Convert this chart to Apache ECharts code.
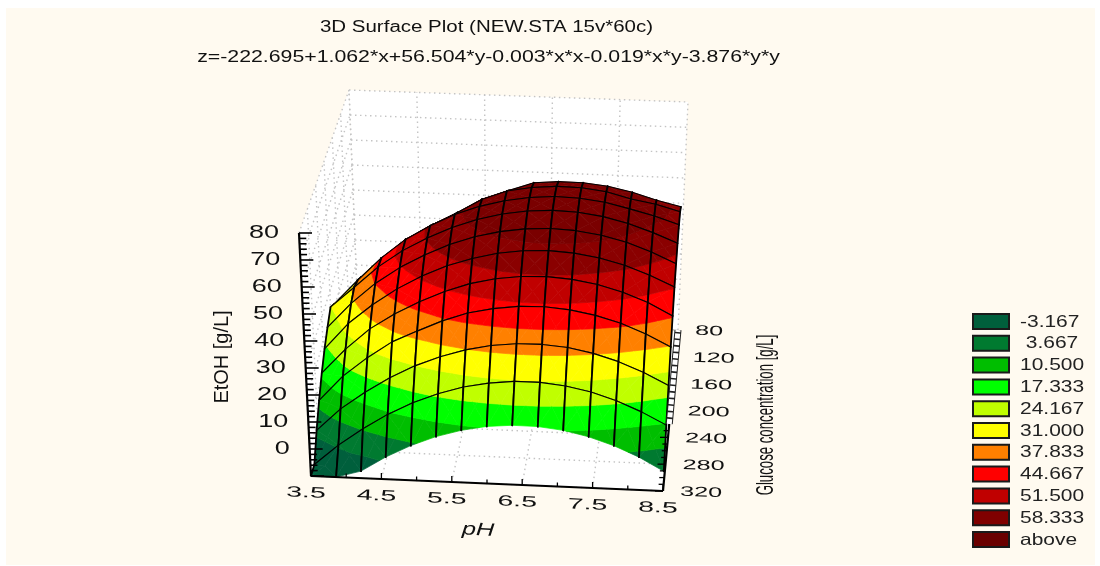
<!DOCTYPE html>
<html><head><meta charset="utf-8">
<style>html,body{margin:0;padding:0;background:#fff}#c{width:1100px;height:566px}</style>
<script src="https://cdn.jsdelivr.net/npm/echarts@6/dist/echarts.min.js"></script>
</head><body><div id="c"></div>
<script>
const titleLines = ['3D Surface Plot (NEW.STA 15v*60c)', 'z=-222.695+1.062*x+56.504*y-0.003*x*x-0.019*x*y-3.876*y*y'];
const phTicks = [3.5, 4.5, 5.5, 6.5, 7.5, 8.5];
const glucoseTicks = [80, 120, 160, 200, 240, 280, 320];
const etohTicks = [0, 10, 20, 30, 40, 50, 60, 70, 80];
const bandLabels = ['-3.167', ' 3.667', '10.500', '17.333', '24.167', '31.000', '37.833', '44.667', '51.500', '58.333', 'above'];
const bandLimits = [-3.167, 3.667, 10.5, 17.333, 24.167, 31, 37.833, 44.667, 51.5, 58.333];
const bandColors = ['#005f3c', '#007a30', '#00be00', '#00ff00', '#c0ff00', '#ffff00', '#ff8000', '#ff0000', '#c00000', '#8a0000', '#7a0000'];
const legendColors = ['#005f3c', '#007a30', '#00be00', '#00ff00', '#c0ff00', '#ffff00', '#ff8000', '#ff0000', '#c00000', '#800000', '#6a0000'];
const phGrid = [3.5, 3.857, 4.214, 4.571, 4.929, 5.286, 5.643, 6, 6.357, 6.714, 7.071, 7.429, 7.786, 8.143, 8.5];
const glucoseGrid = [320, 302.86, 285.71, 268.57, 251.43, 234.29, 217.14, 200, 182.86, 165.71, 148.57];
// EtOH, one row per visible glucose level (front to back), one column per pH
const etohRows = [
 [-10,-10,-7.4,-1.8,2.8,6.5,9.2,11,11.8,11.7,10.7,8.7,5.8,2,-2.8],
 [-10,-2.4,4.1,9.8,14.5,18.2,21.1,22.9,23.9,23.9,22.9,21.1,18.2,14.5,10],
 [-1.5,6.9,13.5,19.3,24.1,27.9,30.8,32.8,33.8,33.9,33.1,31.3,28.6,24.9,20.5],
 [5.5,15,22.3,28.6,33,37.2,40.5,42.5,43.7,43.9,43.1,41.4,38.8,35.2,30.7],
 [11.5,21,29,35,40,44.2,47.5,49.7,50.9,51.2,50.5,48.9,46.4,42.9,38.2],
 [16.5,26.5,34,40.4,45.6,49.9,53,55.3,56.6,57,56.4,54.9,52.5,49.1,45],
 [20.5,30,38,44.4,49.6,53.9,57.2,59.5,60.9,61.4,60.9,59.5,57.2,53.9,49.8],
 [24,32,40.2,46.8,52,56.4,59.8,62.2,63.7,64.3,63.9,62.6,60.3,57.2,53.5],
 [21,30.5,39.5,47,52.6,57.3,60.8,63.3,64.9,65.6,65.3,64.1,61.9,59.5,56.5],
 [17,27.5,35.5,43.3,49,54,59.5,63,64.7,65.5,65.3,64.1,61.7,60,57.5],
 [12.7,23,31,39,45,50,55.3,59.2,62.5,63.3,63.2,62.2,60.2,57.5,55.3]
];

// view of the plot box: screen position of its eight corners (pH, glucose front/back, EtOH)
const box = {
  ph: [3.5, 8.5], glucose: [320, 80], etoh: [-10, 80],
  c000: [311, 476], c100: [663, 491], c010: [358, 315], c110: [678, 330],
  c001: [299, 233], c101: [673, 245], c011: [349, 90], c111: [688, 102]
};
function project(ph, g, z) {
  const u = (ph - box.ph[0]) / (box.ph[1] - box.ph[0]);
  const v = (g - box.glucose[0]) / (box.glucose[1] - box.glucose[0]);
  const w = (z - box.etoh[0]) / (box.etoh[1] - box.etoh[0]);
  const mix = k => {
    const f0 = box.c000[k] * (1 - u) + box.c100[k] * u, b0 = box.c010[k] * (1 - u) + box.c110[k] * u;
    const f1 = box.c001[k] * (1 - u) + box.c101[k] * u, b1 = box.c011[k] * (1 - u) + box.c111[k] * u;
    return (f0 * (1 - v) + b0 * v) * (1 - w) + (f1 * (1 - v) + b1 * v) * w;
  };
  return [mix(0), mix(1)];
}
const P = (api, ph, g, z) => api.coord(project(ph, g, z));
const FLOOR = box.etoh[0], TOP = box.etoh[1];

function clipRange(poly, lo, hi) {
  const clip = (pts, inside, limit) => {
    const out = [];
    for (let i = 0; i < pts.length; i++) {
      const a = pts[i], b = pts[(i + 1) % pts.length];
      const ia = inside(a[2]), ib = inside(b[2]);
      if (ia) out.push(a);
      if (ia !== ib) {
        const t = (limit - a[2]) / (b[2] - a[2]);
        out.push([a[0] + (b[0] - a[0]) * t, a[1] + (b[1] - a[1]) * t, limit]);
      }
    }
    return out;
  };
  let r = clip(poly, z => z >= lo, lo);
  if (r.length) r = clip(r, z => z <= hi, hi);
  return r;
}
function seg(api, a, b, width) {
  const s = P(api, a[0], a[1], a[2]), e = P(api, b[0], b[1], b[2]);
  return { type: 'line', shape: { x1: s[0], y1: s[1], x2: e[0], y2: e[1] }, style: { stroke: '#000', lineWidth: width, lineCap: 'round' } };
}
function renderCell(params, api) {
  const c = api.value(0), r = api.value(1);
  const n = (cc, rr) => [phGrid[cc], glucoseGrid[rr], etohRows[rr][cc]];
  const a = n(c, r), b = n(c + 1, r), d = n(c + 1, r + 1), e = n(c, r + 1);
  const mid = [0, 1, 2].map(k => (a[k] + b[k] + d[k] + e[k]) / 4);
  const children = [];
  [[a, b], [b, d], [d, e], [e, a]].forEach(pair => {
    const tri = [pair[0], pair[1], mid];
    bandColors.forEach((col, i) => {
      const lo = i === 0 ? FLOOR - 1 : bandLimits[i - 1];
      const hi = i === bandLimits.length ? 1e9 : bandLimits[i];
      const pts = clipRange(tri, lo, hi);
      if (pts.length >= 3) children.push({
        type: 'polygon', shape: { points: pts.map(p => P(api, p[0], p[1], p[2])) },
        style: { fill: col, stroke: col, lineWidth: 0.7 }
      });
    });
  });
  children.push(seg(api, a, e, 1.8), seg(api, b, d, 1.8), seg(api, e, d, 1.1));
  if (r > 0) children.push(seg(api, a, b, 1.1));
  return { type: 'group', children };
}
const cells = [];
for (let r = etohRows.length - 2; r >= 0; r--) for (let c = 0; c < phGrid.length - 1; c++) cells.push([c, r]);

function txt(x, y, text, o) {
  return { type: 'text', x, y, rotation: o.rotation || 0, scaleX: o.scaleX || 1, scaleY: o.scaleY || 1,
    style: { text, fill: o.fill || '#111', fontFamily: 'Liberation Sans', fontSize: o.size, fontStyle: o.italic ? 'italic' : 'normal',
      align: o.align || 'center', verticalAlign: 'middle' } };
}
function poly3(api, pts) {
  return { type: 'polygon', shape: { points: pts.map(p => P(api, p[0], p[1], p[2])) }, style: { fill: '#fff' } };
}
function dot(api, a, b) {
  const s = P(api, a[0], a[1], a[2]), e = P(api, b[0], b[1], b[2]);
  return { type: 'line', shape: { x1: s[0], y1: s[1], x2: e[0], y2: e[1] }, style: { stroke: '#c4c4c4', lineWidth: 1.4, lineDash: [1.5, 3.5] } };
}
function renderWalls(params, api) {
  const [p0, p1] = box.ph, [g0, g1] = box.glucose;
  const ch = [
    poly3(api, [[p0, g1, FLOOR], [p1, g1, FLOOR], [p1, g1, TOP], [p0, g1, TOP]]),
    poly3(api, [[p0, g0, FLOOR], [p0, g1, FLOOR], [p0, g1, TOP], [p0, g0, TOP]]),
    poly3(api, [[p0, g0, FLOOR], [p1, g0, FLOOR], [p1, g1, FLOOR], [p0, g1, FLOOR]])
  ];
  const zs = [FLOOR].concat(etohTicks);
  zs.forEach(z => { ch.push(dot(api, [p0, g1, z], [p1, g1, z])); ch.push(dot(api, [p0, g0, z], [p0, g1, z])); });
  phTicks.forEach(ph => { ch.push(dot(api, [ph, g1, FLOOR], [ph, g1, TOP])); ch.push(dot(api, [ph, g0, FLOOR], [ph, g1, FLOOR])); });
  glucoseTicks.forEach(g => { ch.push(dot(api, [p0, g, FLOOR], [p1, g, FLOOR])); ch.push(dot(api, [p0, g, FLOOR], [p0, g, TOP])); });
  return { type: 'group', children: ch };
}
function lineAt(a, b, width, color, dash) {
  const style = { stroke: color || '#000', lineWidth: width };
  if (dash) style.lineDash = dash;
  return { type: 'line', shape: { x1: a[0], y1: a[1], x2: b[0], y2: b[1] }, style };
}
function renderAxes(params, api) {
  const ch = [];
  const [p0, p1] = box.ph, g0 = box.glucose[0], g1 = box.glucose[1];
  // pH axis
  ch.push(lineAt(P(api, p0, g0, FLOOR), P(api, p1, g0, FLOOR), 2));
  for (let ph = p0; ph <= p1 + 1e-6; ph += 0.5) {
    const s = P(api, ph, g0, FLOOR), major = Math.abs(ph - Math.round(ph - 0.5) - 0.5) < 1e-6;
    ch.push(lineAt(s, [s[0], s[1] - (major ? 6 : 4)], 1.3));
  }
  phTicks.forEach(ph => { const s = P(api, ph, g0, FLOOR); ch.push(txt(s[0] - 5, s[1] + 17, String(ph), { size: 15, scaleX: 1.9, rotation: -0.05 })); });
  // EtOH axis
  ch.push(lineAt(P(api, p0, g0, FLOOR), P(api, p0, g0, TOP), 2.2));
  for (let z = FLOOR; z <= TOP; z += 2) {
    const s = P(api, p0, g0, z), major = z % 10 === 0;
    ch.push(lineAt(s, [s[0] + (major ? 13 : 7), s[1]], 1.6));
  }
  etohTicks.forEach(z => { const s = P(api, p0, g0, z); ch.push(txt(s[0] - 20, s[1], String(z), { size: 19, scaleX: 1.42, align: 'right' })); });
  // glucose axis
  const mid = 220;
  const a = P(api, p1, g0, FLOOR), m = P(api, p1, mid, FLOOR), b = P(api, p1, g1, FLOOR);
  ch.push(lineAt(a, m, 2.2));
  for (let g = g0; g > mid; g -= 10) { const s = P(api, p1, g, FLOOR); ch.push(lineAt(s, [s[0] - (g % 40 === 0 ? 8 : 5), s[1]], 1.3)); }
  ch.push(lineAt(m, b, 7, '#222'));
  ch.push(lineAt(m, b, 5, '#fff', [5, 1.6]));
  glucoseTicks.forEach(g => { const s = P(api, p1, g, FLOOR); ch.push(txt(s[0] + 17, s[1] + 1, String(g), { size: 14, scaleX: 1.8, align: 'left', rotation: -0.03 })); });
  return { type: 'group', children: ch };
}
function renderLegend(params, api) {
  const i = api.value(0);
  const tl = api.coord([973, 314 + i * 21.8]);
  return { type: 'group', children: [
    { type: 'rect', shape: { x: tl[0], y: tl[1], width: 36, height: 15 }, style: { fill: legendColors[i], stroke: '#1a1a1a', lineWidth: 2 } },
    txt(tl[0] + 47, tl[1] + 8, bandLabels[i], { size: 16.5, scaleX: 1.27, align: 'left', fill: '#222' })
  ] };
}
function renderTexts(params, api) {
  const c = (x, y) => api.coord([x, y]);
  const t0 = c(486.5, 28), t1 = c(488.5, 58), e = c(222, 357), g = c(766, 415), h = c(478, 530);
  return { type: 'group', children: [
    txt(t0[0], t0[1], titleLines[0], { size: 16, scaleX: 1.28 }),
    txt(t1[0], t1[1], titleLines[1], { size: 16, scaleX: 1.33 }),
    txt(e[0], e[1], 'EtOH [g/L]', { size: 21, scaleX: 0.95, rotation: Math.PI / 2 }),
    txt(g[0], g[1], 'Glucose concentration [g/L]', { size: 24, scaleX: 0.55, rotation: Math.PI / 2 }),
    txt(h[0], h[1], 'pH', { size: 18, scaleX: 1.4, italic: true, rotation: -0.05 })
  ] };
}
const chart = echarts.init(document.getElementById('c'), null, { renderer: 'canvas' });
const base = { type: 'custom', coordinateSystem: 'cartesian2d', clip: false, silent: true, animation: false };
chart.setOption({
  animation: false,
  backgroundColor: '#fff',
  graphic: [{ type: 'rect', z: 0, shape: { x: 6, y: 8, width: 1089, height: 557 }, style: { fill: '#fffaf0' } }],
  grid: { left: 0, right: 0, top: 0, bottom: 0 },
  xAxis: { type: 'value', min: 0, max: 1100, show: false },
  yAxis: { type: 'value', min: 0, max: 566, inverse: true, show: false },
  series: [
    Object.assign({}, base, { name: 'walls', data: [[0, 0]], renderItem: renderWalls, z: 2 }),
    Object.assign({}, base, { name: 'EtOH surface', data: cells, renderItem: renderCell, z: 3 }),
    Object.assign({}, base, { name: 'axes', data: [[0, 0]], renderItem: renderAxes, z: 4 }),
    Object.assign({}, base, { name: 'legend', data: bandLabels.map((l, i) => [i, 0]), renderItem: renderLegend, z: 5 }),
    Object.assign({}, base, { name: 'titles', data: [[0, 0]], renderItem: renderTexts, z: 5 })
  ]
});
</script></body></html>
